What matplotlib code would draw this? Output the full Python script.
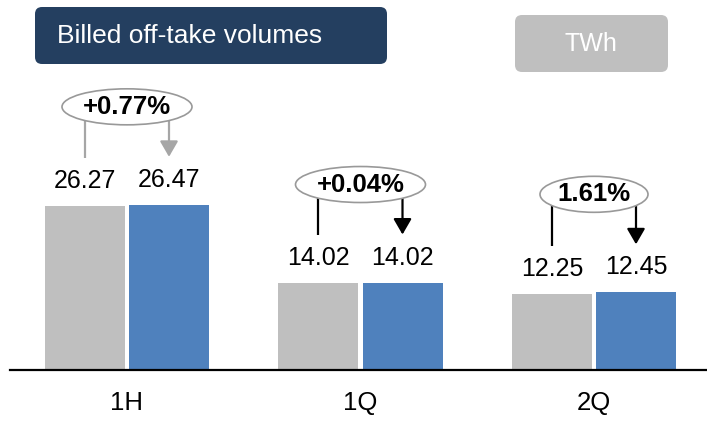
import matplotlib
matplotlib.use("Agg")
import matplotlib.pyplot as plt
from matplotlib.patches import Ellipse, FancyBboxPatch, FancyArrowPatch

plt.rcParams['font.family'] = ['Liberation Sans', 'DejaVu Sans']

# data
categories = ["1H", "1Q", "2Q"]
prev_vals = [26.27, 14.02, 12.25]
curr_vals = [26.47, 14.02, 12.45]
pct_labels = ["+0.77%", "+0.04%", "1.61%"]

# styles
gray = "#BFBFBF"
blue = "#4F81BD"
navy = "#243F60"
arrow_colors = ["#A6A6A6", "black", "black"]
ell_w_px = [130, 130, 108]

W, H = 707, 425
fig = plt.figure(figsize=(W / 100, H / 100), dpi=100)
ax = fig.add_axes([0, 0, 1, 1])

# pixel -> data helpers (group spacing 233.5 px, 6.24 px per unit)
gx = 233.5
py = 6.24
x0_px, base_px = 127, 370
ax.set_xlim(-x0_px / gx, (W - x0_px) / gx)
ax.set_ylim(-(H - base_px) / py, base_px / py)
ax.axis("off")

bw = 80 / gx
off = 42 / gx
for i, cat in enumerate(categories):
    xl, xr = i - off, i + off
    ax.bar(xl, prev_vals[i], width=bw, color=gray, zorder=2)
    ax.bar(xr, curr_vals[i], width=bw, color=blue, zorder=2)
    ax.text(xl, prev_vals[i] + 25 / py, f"{prev_vals[i]:.2f}", ha="center", va="center",
            fontsize=18)
    ax.text(xr, curr_vals[i] + 25 / py, f"{curr_vals[i]:.2f}", ha="center", va="center",
            fontsize=18)
    ax.text(i, -33 / py, cat, ha="center", va="center", fontsize=18.5)

    # percent bubble and arrows
    top = max(prev_vals[i], curr_vals[i])
    cy = top + 98 / py
    ell = Ellipse((i, cy), ell_w_px[i] / gx, 36 / py, facecolor="white",
                  edgecolor="#999999", lw=1.2, zorder=4)
    ax.add_patch(ell)
    ax.text(i, cy, pct_labels[i], ha="center", va="center", fontsize=18.5,
            fontweight="bold", zorder=5)
    c = arrow_colors[i]
    ax.plot([xl, xl], [cy, prev_vals[i] + 48 / py], color=c, lw=1.6, zorder=3,
            solid_capstyle="butt")
    arr = FancyArrowPatch((xr, cy), (xr, curr_vals[i] + 48 / py),
                          arrowstyle="-|>,head_length=0.95,head_width=0.55",
                          mutation_scale=10, color=c, lw=1.6, shrinkA=0, shrinkB=0,
                          zorder=3)
    ax.add_patch(arr)

ax.axhline(0, xmin=10 / W, xmax=1, color="black", lw=1.6, zorder=3)

# header boxes in pixel coordinates
ov = fig.add_axes([0, 0, 1, 1])
ov.set_xlim(0, W)
ov.set_ylim(H, 0)
ov.axis("off")
ov.add_patch(FancyBboxPatch((35, 7), 352, 57, boxstyle="round,pad=0,rounding_size=7",
                            facecolor=navy, edgecolor="none"))
ov.text(57, 36, "Billed off-take volumes", color="white", fontsize=19,
        ha="left", va="center")
ov.add_patch(FancyBboxPatch((515, 15), 153, 57, boxstyle="round,pad=0,rounding_size=7",
                            facecolor=gray, edgecolor="none"))
ov.text(591, 44, "TWh", color="white", fontsize=18, ha="center", va="center")

fig.savefig("out.png", dpi=100)
